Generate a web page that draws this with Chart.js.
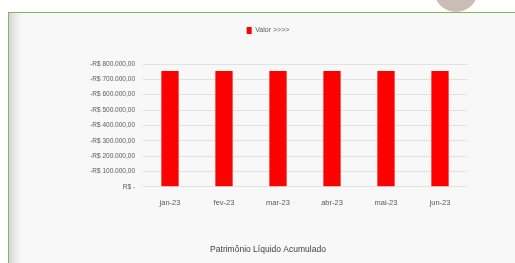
<!DOCTYPE html>
<html>
<head>
<meta charset="utf-8">
<script src="https://cdn.jsdelivr.net/npm/chart.js@4.4.0/dist/chart.umd.min.js"></script>
<style>
  html, body { margin: 0; padding: 0; background: #ffffff; }
  body { width: 515px; height: 263px; position: relative; overflow: hidden; }
  .blob { position: absolute; left: 434px; top: -32px; width: 44px; height: 44px; border-radius: 50%; background: #c9bdb6; }
  .card { position: absolute; left: 8px; top: 12px; width: 520px; height: 260px; background: #f8f8f8;
    border-top: 1.5px solid #80b860; border-left: 1.5px solid #80b860;
    box-shadow: inset 12px 0 8px -7px #d2d2d2; }
  #wrap { position: absolute; left: 0; top: 0; width: 515px; height: 263px; }
</style>
</head>
<body>
<div class="blob"></div>
<div class="card"></div>
<div id="wrap"><canvas id="chart" width="515" height="263"></canvas></div>
<script>
var categories = ['jan-23', 'fev-23', 'mar-23', 'abr-23', 'mai-23', 'jun-23']
var valores = [-755000, -755000, -755000, -755000, -755000, -755000]
var yTicks = [0, -100000, -200000, -300000, -400000, -500000, -600000, -700000, -800000]

function brl (v) {
  if (v === 0) return 'R$ -'
  var s = Math.abs(v).toFixed(0).replace(/\B(?=(\d{3})+(?!\d))/g, '.')
  return (v < 0 ? '-' : '') + 'R$ ' + s + ',00'
}

// extra room under the legend, like the original spreadsheet chart
var legendGap = {
  id: 'legendGap',
  beforeInit: function (chart) {
    var lg = chart.legend
    if (!lg) return
    var fit = lg.fit
    lg.fit = function () { fit.call(this); this.height += 20 }
  }
}

var ctx = document.getElementById('chart')
var chart = new Chart(ctx, {
  type: 'bar',
  data: {
    labels: categories,
    datasets: [{
      label: 'Valor >>>>',
      data: valores,
      backgroundColor: '#ff0000',
      borderWidth: 0,
      barPercentage: 0.64,
      categoryPercentage: 0.5
    }]
  },
  options: {
    responsive: false,
    animation: false,
    layout: { padding: { top: 17, right: 48, bottom: 4, left: 69 } },
    plugins: {
      legend: {
        position: 'top',
        labels: { color: '#595959', font: { family: 'Liberation Sans', size: 7 }, boxWidth: 5, boxHeight: 7, padding: 10 }
      },
      title: {
        display: true,
        position: 'bottom',
        text: 'Patrimônio Líquido Acumulado',
        color: '#404040',
        font: { family: 'Liberation Sans', size: 8.5, weight: 'normal' },
        padding: { top: 4, bottom: 4 }
      },
      tooltip: { enabled: false }
    },
    scales: {
      x: {
        grid: { display: false },
        border: { display: false },
        ticks: { color: '#595959', font: { family: 'Liberation Sans', size: 7.5 }, padding: 4 },
        afterFit: function (s) { s.height = 54 }
      },
      y: {
        reverse: true,
        min: -800000,
        max: 0,
        afterBuildTicks: function (s) { s.ticks = yTicks.map(function (v) { return { value: v } }) },
        grid: { color: '#e2e2e2', drawTicks: false },
        border: { display: false },
        ticks: { color: '#595959', font: { family: 'Liberation Sans', size: 6.5 }, padding: 8, callback: function (v) { return brl(v) } },
        afterFit: function (s) { s.width = 74 }
      }
    }
  },
  plugins: [legendGap]
})
</script>
</body>
</html>
